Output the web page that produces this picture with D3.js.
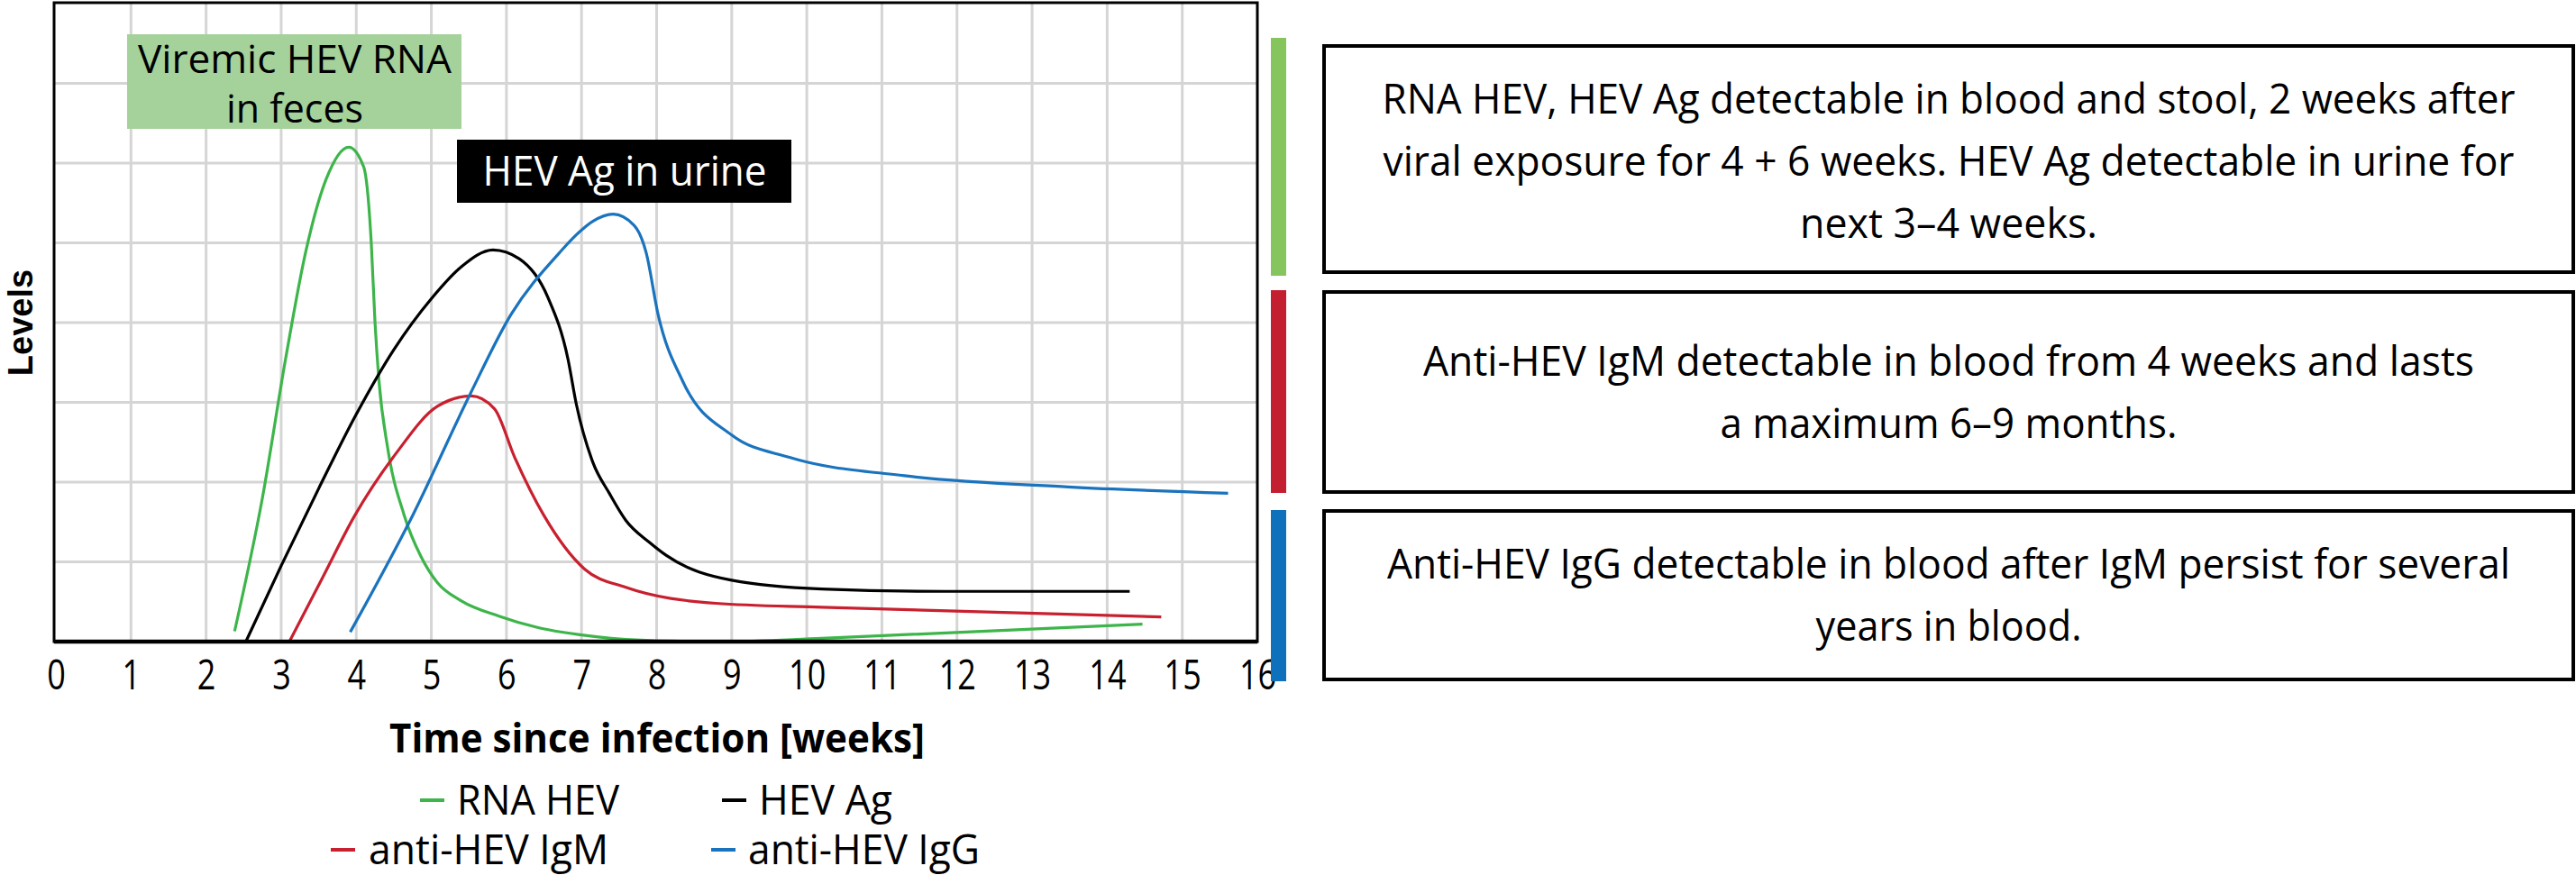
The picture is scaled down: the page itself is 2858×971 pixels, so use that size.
<!DOCTYPE html>
<html><head><meta charset="utf-8">
<script src="https://cdn.jsdelivr.net/npm/d3@7"></script>
<style>body{margin:0;background:#fff}</style>
</head><body><svg id="c" width="2858" height="971"></svg>
<script>
// ---------- data ----------
const weekTicks = d3.range(0, 17);
const levelGrid = d3.range(0, 9);
const seriesNames = ["RNA HEV", "HEV Ag", "anti-HEV IgM", "anti-HEV IgG"];
const seriesColors = ["#3db54a", "#000000", "#c8202f", "#1a73bd"];
const rnaHev = [[2.38,0.13],[2.75,1.8],[3.06,3.55],[3.33,4.9],[3.6,5.8],[3.9,6.2],[4.1,5.95],[4.2,5.0],[4.25,4.0],[4.3,3.3],[4.42,2.42],[4.64,1.58],[4.86,1.07],[5.08,0.74],[5.4,0.51],[5.9,0.32],[6.4,0.18],[7.2,0.06],[8.0,0.01],[8.9,0],[10.2,0.04],[14.47,0.22]];
const hevAg = [[2.53,0],[3.0,0.95],[3.5,1.92],[4.0,2.85],[4.5,3.66],[5.0,4.3],[5.4,4.7],[5.82,4.91],[6.17,4.8],[6.55,4.32],[6.82,3.54],[6.93,2.98],[7.15,2.25],[7.37,1.86],[7.59,1.52],[7.91,1.24],[8.13,1.08],[9.0,0.77],[10.2,0.66],[11.85,0.63],[14.3,0.63]];
const igM = [[3.11,0],[3.55,0.8],[3.98,1.58],[4.53,2.36],[5.08,2.95],[5.53,3.08],[5.84,2.92],[6.11,2.31],[6.5,1.58],[7.04,0.91],[7.59,0.68],[8.79,0.48],[10.2,0.43],[14.72,0.31]];
const igG = [[3.92,0.12],[4.75,1.58],[5.51,3.09],[6.06,4.1],[6.71,4.88],[6.93,5.1],[7.15,5.27],[7.42,5.36],[7.7,5.22],[7.86,4.88],[8.02,4.1],[8.35,3.26],[9.0,2.59],[9.77,2.31],[11.3,2.08],[13.48,1.94],[15.61,1.86]];
const seriesValues = [rnaHev, hevAg, igM, igG];
const xTitle = "Time since infection [weeks]";
const yTitle = "Levels";
const noteRna = ["Viremic HEV RNA", "in feces"];
const noteAg = ["HEV Ag in urine"];
const boxTexts = [
  ["RNA HEV, HEV Ag detectable in blood and stool, 2 weeks after", "viral exposure for 4 + 6 weeks. HEV Ag detectable in urine for", "next 3–4 weeks."],
  ["Anti-HEV IgM detectable in blood from 4 weeks and lasts", "a maximum 6–9 months."],
  ["Anti-HEV IgG detectable in blood after IgM persist for several", "years in blood."]
];
const boxColors = ["#86c45e", "#c41f30", "#0f71bb"];

// ---------- layout ----------
const svg = d3.select("#c");
const FONT = "'Open Sans', 'Noto Sans', sans-serif";
const plot = {l: 60, r: 1395, t: 3, b: 712};
const x = d3.scaleLinear().domain([0, 16]).range([62, 1395]);
const y = d3.scaleLinear().domain([0, 8]).range([712, 4]);

function fit(sel, w) { sel.attr("textLength", w).attr("lengthAdjust", "spacingAndGlyphs"); }

// grid
const g = svg.append("g");
g.selectAll(".vg").data(weekTicks.slice(1, 16)).join("line")
  .attr("x1", d => x(d)).attr("x2", d => x(d)).attr("y1", plot.t).attr("y2", plot.b)
  .attr("stroke", "#d5d5d5").attr("stroke-width", 3);
g.selectAll(".hg").data(levelGrid.slice(1, 8)).join("line")
  .attr("x1", plot.l).attr("x2", plot.r).attr("y1", d => y(d)).attr("y2", d => y(d))
  .attr("stroke", "#d5d5d5").attr("stroke-width", 3);

// annotations
const ann = svg.append("g");
ann.append("rect").attr("x", 141).attr("y", 38).attr("width", 371).attr("height", 105).attr("fill", "#a5d19b");
const rnaW = [348, 152], rnaY = [81, 136];
noteRna.forEach((t, i) => {
  ann.append("text").attr("x", 327).attr("y", rnaY[i]).attr("text-anchor", "middle")
    .attr("font-family", FONT).attr("font-size", 44).attr("fill", "#000").text(t).call(fit, rnaW[i]);
});
ann.append("rect").attr("x", 507).attr("y", 155).attr("width", 371).attr("height", 70).attr("fill", "#000");
ann.append("text").attr("x", 693).attr("y", 206).attr("text-anchor", "middle")
  .attr("font-family", FONT).attr("font-size", 45).attr("fill", "#fff").text(noteAg[0]).call(fit, 315);

// lines
const line = d3.line().x(d => x(d[0])).y(d => y(d[1])).curve(d3.curveMonotoneX);
svg.append("g").selectAll("path").data(seriesValues).join("path")
  .attr("d", line).attr("fill", "none")
  .attr("stroke", (d, i) => seriesColors[i]).attr("stroke-width", 3.2)
  .attr("stroke-linejoin", "round");

// frame
svg.append("rect").attr("x", plot.l).attr("y", plot.t).attr("width", plot.r - plot.l).attr("height", plot.b - plot.t)
  .attr("fill", "none").attr("stroke", "#000").attr("stroke-width", 3);
svg.append("line").attr("x1", plot.l).attr("x2", plot.r).attr("y1", plot.b).attr("y2", plot.b)
  .attr("stroke", "#000").attr("stroke-width", 4.5);

// x axis ticks
const ax = svg.append("g").attr("transform", `translate(0,${plot.b})`)
  .call(d3.axisBottom(x).tickValues(weekTicks).tickSize(0).tickPadding(0).tickFormat(d3.format("d")));
ax.select(".domain").remove();
ax.selectAll("text").attr("y", 53).attr("dy", null).attr("font-family", FONT).attr("font-size", 45).attr("fill", "#000")
  .each(function () { const w = this.getComputedTextLength(); d3.select(this).attr("textLength", w * 0.8).attr("lengthAdjust", "spacingAndGlyphs"); });

// axis titles
svg.append("text").attr("x", 729).attr("y", 835).attr("text-anchor", "middle")
  .attr("font-family", FONT).attr("font-weight", "bold").attr("font-size", 45).text(xTitle).call(fit, 594);
svg.append("text").attr("transform", "translate(36,358) rotate(-90)").attr("text-anchor", "middle")
  .attr("font-family", "'Liberation Sans', Arial, sans-serif").attr("font-weight", "bold").attr("font-size", 38).text(yTitle);

// legend
const legPos = [{sx: 466, tx: 507, w: 180, y: 904}, {sx: 801, tx: 842, w: 148, y: 904},
                {sx: 367, tx: 409, w: 266, y: 959}, {sx: 789, tx: 830, w: 257, y: 959}];
const leg = svg.append("g").selectAll("g").data(seriesNames).join("g");
leg.append("line").attr("x1", (d, i) => legPos[i].sx).attr("x2", (d, i) => legPos[i].sx + 27)
  .attr("y1", (d, i) => legPos[i].y - 16).attr("y2", (d, i) => legPos[i].y - 16)
  .attr("stroke", (d, i) => seriesColors[i]).attr("stroke-width", 4);
leg.append("text").attr("x", (d, i) => legPos[i].tx).attr("y", (d, i) => legPos[i].y)
  .attr("font-family", FONT).attr("font-size", 45).attr("fill", "#000").text(d => d)
  .each(function (d, i) { fit(d3.select(this), legPos[i].w); });

// side bars and boxes
const bars = [{y0: 42, y1: 306}, {y0: 322, y1: 547}, {y0: 566, y1: 756}];
svg.append("g").selectAll("rect").data(bars).join("rect")
  .attr("x", 1410).attr("width", 17).attr("y", d => d.y0).attr("height", d => d.y1 - d.y0)
  .attr("fill", (d, i) => boxColors[i]);
const boxes = [{y0: 51, y1: 302, base: [126, 195, 264], w: [1257, 1255, 330]},
               {y0: 324, y1: 546, base: [417, 486], w: [1166, 507]},
               {y0: 567, y1: 754, base: [642, 711], w: [1246, 295]}];
boxes.forEach((b, i) => {
  svg.append("rect").attr("x", 1469).attr("y", b.y0).attr("width", 2855 - 1469).attr("height", b.y1 - b.y0)
    .attr("fill", "none").attr("stroke", "#000").attr("stroke-width", 4);
  boxTexts[i].forEach((t, j) => {
    svg.append("text").attr("x", 2162).attr("y", b.base[j]).attr("text-anchor", "middle")
      .attr("font-family", FONT).attr("font-size", 46).attr("fill", "#000").text(t).call(fit, b.w[j]);
  });
});
</script></body></html>
